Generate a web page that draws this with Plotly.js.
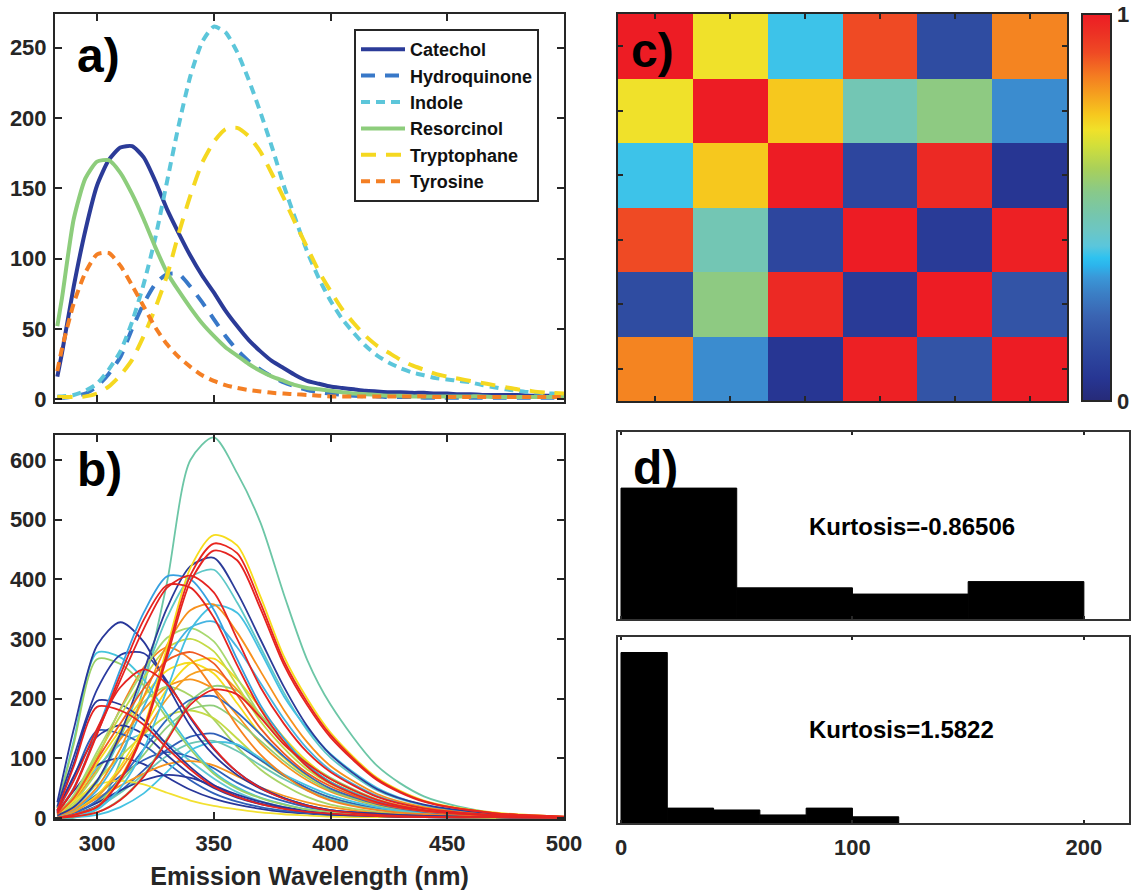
<!DOCTYPE html>
<html>
<head>
<meta charset="utf-8">
<script src="https://cdn.plot.ly/plotly-3.0.1.min.js"></script>
<style>
  html, body { margin: 0; padding: 0; background: #ffffff; }
  #fig { width: 1139px; height: 890px; }
</style>
</head>
<body>
<div id="fig"></div>
<script>
// ---------- a) reference emission spectra of the six fluorophores ----------
const wlPure = [283, 285, 290, 295, 300, 305, 310, 315, 320, 325, 330, 335, 340, 345, 350,
  355, 360, 365, 370, 375, 380, 385, 390, 395, 400, 405, 410, 415, 420, 425, 430, 435, 440,
  445, 450, 455, 460, 465, 470, 475, 480, 485, 490, 495, 500];

const catechol = [16, 33, 80, 120, 152, 170, 179, 180, 172, 155, 135, 118, 102, 88, 76,
  63, 52, 42, 34, 27, 22, 17, 13, 11, 9, 8, 7, 6, 5.5, 5, 5, 4.5, 4.5,
  4, 4, 3.5, 3.5, 3, 3, 3, 3, 2.5, 2.5, 2.5, 2.5];
const hydroquinone = [1, 1, 2, 4, 9, 18, 30, 50, 68, 82, 89, 89, 80, 69, 57,
  45, 35, 27, 21, 16, 12, 9, 6.5, 5, 4, 3, 2.5, 2, 2, 1.5, 1.5, 1.5, 1,
  1, 1, 1, 1, 1, 1, 1, 1, 1, 1, 1, 1];
const indole = [2, 2, 3, 6, 11, 21, 34, 55, 82, 115, 155, 195, 230, 254, 265,
  261, 247, 227, 204, 179, 152, 128, 105, 86, 70, 57, 47, 38, 31, 26, 22, 19, 17,
  15, 14, 13, 12, 10, 8.5, 7, 6, 5, 4.5, 4, 3.5];
const resorcinol = [52, 72, 128, 157, 169, 170, 161, 146, 128, 108, 90, 77, 65, 54, 45,
  37, 31, 25, 20, 16, 13, 10, 8, 7, 6, 5, 4, 3.5, 3, 2.5, 2.5, 2, 2,
  2, 2, 2, 2, 2, 1.5, 1.5, 1.5, 1.5, 1.5, 1.5, 1.5];
const tryptophane = [1.5, 1.5, 1.5, 2, 4, 9, 17, 28, 45, 65, 88, 118, 145, 168, 183,
  192, 193, 187, 176, 160, 143, 125, 108, 91, 77, 64, 54, 45, 38, 33, 28, 24, 21,
  18, 16, 14.5, 13, 11.5, 10, 8.5, 7, 6, 5, 4.5, 4];
const tyrosine = [20, 36, 68, 90, 103, 104, 95, 81, 66, 51, 39, 30, 23, 17, 13,
  10, 8, 6.5, 5.5, 4.5, 4, 3.5, 3, 2.5, 2, 2, 2, 2, 2, 2, 2, 2, 2,
  1.5, 1.5, 1.5, 1.5, 1.5, 1.5, 1.5, 1.5, 1.5, 1.5, 1.5, 1.5];

const pureNames = ['Catechol', 'Hydroquinone', 'Indole', 'Resorcinol', 'Tryptophane', 'Tyrosine'];
const pureSeries = [catechol, hydroquinone, indole, resorcinol, tryptophane, tyrosine];
const pureColors = ['#2b3b98', '#3878c8', '#5cc6da', '#8dcd7c', '#f5d820', '#f47f24'];
const pureDash = ['solid', '14px,10px', '9px,6px', 'solid', '15px,10px', '9px,6px'];

// ---------- b) measured mixture spectra ----------
const wlMix = [283, 290, 300, 310, 320, 330, 340, 350, 360, 370, 380, 390, 400, 420, 440, 470, 500];

const mixSpectra = [
  [0, 0, 15, 95, 220, 395, 600, 638, 578, 495, 375, 265, 190, 87, 36, 8, 1],
  [4, 17, 59, 134, 235, 336, 403, 416, 361, 286, 210, 147, 101, 46, 21, 6, 1],
  [5, 28, 81, 132, 181, 220, 232, 216, 172, 125, 90, 63, 44, 20, 9, 3, 1],
  [7, 26, 77, 141, 194, 220, 205, 165, 119, 81, 55, 35, 22, 10, 4, 2, 0],
  [4, 22, 63, 103, 140, 171, 180, 167, 133, 97, 70, 49, 34, 15, 7, 2, 1],
  [7, 35, 84, 123, 140, 126, 95, 66, 43, 28, 18, 11, 7, 3, 1, 1, 0],
  [3, 13, 39, 70, 97, 110, 102, 83, 59, 41, 28, 18, 11, 5, 2, 1, 0],
  [2, 8, 27, 61, 106, 152, 182, 188, 163, 129, 95, 67, 46, 21, 10, 3, 1],
  [8, 45, 88, 100, 90, 68, 47, 32, 22, 15, 10, 7, 4, 2, 1, 0, 0],
  [9, 68, 146, 141, 122, 92, 63, 41, 27, 18, 12, 8, 5, 2, 1, 0, 0],
  [5, 31, 91, 148, 203, 247, 260, 242, 192, 140, 101, 70, 49, 22, 10, 3, 1],
  [1, 6, 20, 45, 80, 114, 136, 141, 122, 97, 71, 50, 34, 16, 7, 2, 0],
  [0, 1, 5, 18, 41, 77, 113, 127, 123, 100, 73, 54, 38, 18, 8, 2, 1],
  [1, 5, 18, 42, 73, 104, 125, 129, 112, 88, 65, 46, 31, 14, 7, 2, 0],
  [2, 11, 33, 54, 74, 90, 95, 88, 70, 51, 37, 26, 18, 8, 4, 1, 0],
  [2, 9, 25, 46, 63, 72, 67, 54, 39, 27, 18, 12, 7, 3, 1, 1, 0],
  [5, 28, 55, 62, 56, 42, 29, 20, 14, 9, 6, 4, 2, 1, 1, 0, 0],
  [12, 70, 136, 155, 140, 105, 73, 50, 34, 23, 16, 10, 6, 3, 2, 1, 0],
  [0, 2, 9, 31, 71, 133, 195, 221, 213, 173, 127, 93, 67, 31, 13, 4, 1],
  [2, 8, 29, 66, 115, 165, 198, 204, 177, 140, 103, 72, 49, 23, 10, 3, 1],
  [12, 91, 196, 190, 164, 123, 85, 55, 36, 24, 16, 10, 7, 3, 1, 1, 0],
  [3, 11, 38, 86, 151, 216, 259, 267, 232, 184, 135, 95, 65, 30, 14, 4, 1],
  [3, 10, 35, 80, 140, 200, 240, 248, 215, 170, 125, 88, 60, 28, 13, 4, 1],
  [9, 34, 100, 183, 252, 286, 266, 215, 154, 106, 72, 46, 29, 13, 6, 2, 1],
  [6, 36, 105, 171, 234, 285, 300, 279, 222, 162, 117, 81, 57, 26, 12, 4, 1],
  [17, 129, 277, 269, 232, 174, 120, 77, 51, 34, 23, 14, 10, 4, 2, 1, 0],
  [16, 123, 266, 258, 222, 167, 115, 74, 49, 33, 22, 14, 10, 4, 2, 1, 0],
  [19, 102, 215, 273, 276, 229, 167, 115, 77, 51, 33, 21, 13, 6, 3, 1, 1],
  [26, 148, 289, 328, 295, 223, 154, 105, 72, 49, 33, 21, 13, 7, 3, 1, 1],
  [6, 38, 111, 181, 248, 302, 318, 296, 235, 172, 124, 86, 60, 27, 13, 4, 1],
  [3, 13, 46, 106, 186, 266, 319, 329, 286, 226, 166, 116, 80, 37, 17, 5, 1],
  [0, 4, 14, 50, 115, 215, 315, 356, 344, 279, 204, 150, 107, 50, 21, 6, 1],
  [4, 14, 51, 116, 203, 290, 348, 358, 311, 246, 181, 127, 87, 40, 18, 5, 1],
  [10, 50, 145, 249, 344, 405, 400, 349, 266, 189, 133, 89, 60, 27, 12, 4, 1],
  [4, 18, 62, 141, 246, 352, 422, 436, 378, 299, 220, 154, 106, 48, 22, 7, 1],
  [0, 5, 19, 67, 152, 286, 419, 474, 457, 371, 271, 200, 143, 67, 29, 9, 2],
  [6, 33, 97, 158, 217, 264, 278, 259, 206, 150, 108, 75, 53, 24, 11, 3, 1],
  [12, 62, 149, 219, 249, 224, 169, 117, 77, 50, 32, 20, 12, 5, 2, 1, 0],
  [12, 86, 186, 180, 156, 117, 81, 52, 35, 23, 15, 10, 7, 3, 1, 1, 0],
  [0, 2, 9, 30, 69, 130, 190, 215, 207, 168, 123, 91, 65, 30, 13, 4, 1],
  [10, 48, 140, 240, 332, 390, 386, 336, 256, 182, 128, 86, 58, 26, 12, 4, 1],
  [8, 49, 142, 231, 317, 386, 406, 378, 300, 219, 158, 110, 77, 35, 16, 5, 1],
  [0, 5, 18, 63, 144, 270, 396, 448, 432, 351, 257, 189, 135, 63, 27, 8, 2],
  [0, 5, 18, 65, 148, 277, 407, 460, 444, 360, 263, 194, 139, 65, 28, 8, 2]
];
const mixColors = [
  '#6cc6a6', '#5ec8c8', '#f7941d', '#a9d466', '#c4da46', '#5fc6d6',
  '#2f5fb8', '#8ecd7a', '#28379a', '#2f5fb8', '#f6dc1c', '#2f5fb8',
  '#45c2e2', '#6cc6b4', '#f7941d', '#28379a', '#f2e030', '#28379a',
  '#8ecd7a', '#2f68c0', '#28379a', '#f6dc1c', '#f7a020', '#f7821e',
  '#c4da46', '#45c4dc', '#9ad068', '#2a3aa0', '#28379a', '#a8d870',
  '#45b4e2', '#45c0e2', '#f7901d', '#36a0e0', '#2b3b98', '#f7dc1c',
  '#f05a22', '#e52421', '#e52421', '#e52421', '#e52421', '#e52421',
  '#e52421', '#e8261f'
];

// ---------- c) correlation between the recovered and reference components ----------
const corrMatrix = [
  [1.00, 0.70, 0.38, 0.90, 0.14, 0.83],
  [0.70, 1.00, 0.74, 0.47, 0.55, 0.30],
  [0.38, 0.74, 1.00, 0.12, 0.97, 0.06],
  [0.90, 0.47, 0.12, 1.00, 0.08, 0.99],
  [0.14, 0.55, 0.97, 0.08, 1.00, 0.17],
  [0.83, 0.30, 0.06, 0.99, 0.17, 1.00]
];
const corrIndex = [1, 2, 3, 4, 5, 6];

// ---------- d) histograms with their kurtosis ----------
const histTopCenters = [25, 75, 125, 175];
const histTopCounts = [21, 5, 4, 6];
const histTopBinWidth = 50;
const histBottomCenters = [10, 30, 50, 70, 90, 110];
const histBottomCounts = [27.5, 2.4, 2.1, 1.3, 2.4, 1.0];
const histBottomBinWidth = 20;
const kurtosisTop = 'Kurtosis=-0.86506';
const kurtosisBottom = 'Kurtosis=1.5822';

// ---------- styling ----------
const FONT = 'Liberation Sans, Arial, Helvetica, sans-serif';
const INK = '#262626';
const W = 1139, H = 890;
const px = v => v / W;
const py = v => 1 - v / H;

const jetScale = [
  [0.00, '#262a78'], [0.06, '#273693'], [0.12, '#2d469e'], [0.17, '#3354a6'],
  [0.22, '#3a64b2'], [0.28, '#3b80c6'], [0.32, '#3a98d8'], [0.35, '#2cb4ec'],
  [0.37, '#2ec2f0'], [0.40, '#5ac6dc'], [0.44, '#6cc6c4'], [0.48, '#75c6ae'],
  [0.54, '#88c98a'], [0.60, '#a9d05a'], [0.66, '#d2df3a'], [0.70, '#f0e12a'],
  [0.74, '#f6c81e'], [0.80, '#f59a1f'], [0.84, '#f47c21'], [0.90, '#ef4a24'],
  [0.95, '#ec3124'], [1.00, '#ed1c24']
];

const traces = [];

pureSeries.forEach((ys, i) => {
  traces.push({
    type: 'scatter', mode: 'lines', x: wlPure, y: ys, name: pureNames[i],
    xaxis: 'x', yaxis: 'y',
    line: { color: pureColors[i], width: 4, dash: pureDash[i], shape: 'spline', smoothing: 0.6 },
    hoverinfo: 'skip'
  });
});

mixSpectra.forEach((ys, i) => {
  traces.push({
    type: 'scatter', mode: 'lines', x: wlMix, y: ys, showlegend: false,
    xaxis: 'x2', yaxis: 'y2',
    line: { color: mixColors[i], width: 1.8, shape: 'spline', smoothing: 0.8 },
    hoverinfo: 'skip'
  });
});

traces.push({
  type: 'heatmap', z: corrMatrix, x: corrIndex, y: corrIndex,
  xaxis: 'x3', yaxis: 'y3', zmin: 0, zmax: 1, colorscale: jetScale,
  hoverinfo: 'skip',
  colorbar: {
    x: px(1082), xanchor: 'left', xref: 'paper',
    y: py(14), yanchor: 'top', yref: 'paper',
    len: (401 - 14) / H, lenmode: 'fraction',
    thickness: 29, thicknessmode: 'pixels',
    xpad: 0, ypad: 0,
    outlinewidth: 2, outlinecolor: INK,
    tickvals: [0, 1], ticktext: ['0', '1'],
    ticks: 'inside', ticklen: 4, tickwidth: 2, tickcolor: INK,
    ticklabelstandoff: 4,
    tickfont: { family: FONT, size: 22, weight: 'bold', color: INK }
  }
});

traces.push({
  type: 'bar', x: histTopCenters, y: histTopCounts, width: histTopBinWidth,
  xaxis: 'x4', yaxis: 'y4', showlegend: false, hoverinfo: 'skip',
  marker: { color: '#000000', line: { color: '#000000', width: 1 } }
});
traces.push({
  type: 'bar', x: histBottomCenters, y: histBottomCounts, width: histBottomBinWidth,
  xaxis: 'x5', yaxis: 'y5', showlegend: false, hoverinfo: 'skip',
  marker: { color: '#000000', line: { color: '#000000', width: 1 } }
});

const tickFont = { family: FONT, size: 22, weight: 'bold', color: INK };
function frameAxis(extra) {
  return Object.assign({
    showline: true, linecolor: INK, linewidth: 2, mirror: 'ticks',
    ticks: 'inside', ticklen: 7, tickwidth: 2, tickcolor: INK,
    showgrid: false, zeroline: false, tickfont: tickFont, fixedrange: true
  }, extra);
}

const xSpecDomain = [px(55), px(564)];
const xRightDomain = [px(618), px(1129)];

const layout = {
  width: W, height: H,
  margin: { l: 0, r: 0, t: 0, b: 0, autoexpand: false },
  paper_bgcolor: '#ffffff', plot_bgcolor: '#ffffff',
  font: { family: FONT, color: INK },
  bargap: 0,
  showlegend: true,
  legend: {
    x: px(354), y: py(29), xanchor: 'left', yanchor: 'top',
    bgcolor: '#ffffff', bordercolor: INK, borderwidth: 2,
    font: { family: FONT, size: 18, weight: 'bold', color: '#111111' },
    itemwidth: 44, itemclick: false, itemdoubleclick: false
  },
  xaxis: frameAxis({ domain: xSpecDomain, anchor: 'y', range: [282, 500],
    tickvals: [300, 350, 400, 450, 500], showticklabels: false }),
  yaxis: frameAxis({ domain: [py(402), py(14)], anchor: 'x', range: [-2, 274],
    tickvals: [0, 50, 100, 150, 200, 250], ticklabelstandoff: 2 }),
  xaxis2: frameAxis({ domain: xSpecDomain, anchor: 'y2', range: [282, 500],
    tickvals: [300, 350, 400, 450, 500], ticklabelstandoff: 4,
    title: { text: 'Emission Wavelength (nm)', standoff: 16,
      font: { family: FONT, size: 25, weight: 'bold', color: INK } } }),
  yaxis2: frameAxis({ domain: [py(819), py(435)], anchor: 'x2', range: [-2, 642],
    tickvals: [0, 100, 200, 300, 400, 500, 600], ticklabelstandoff: 2 }),
  xaxis3: frameAxis({ domain: [px(618), px(1067)], anchor: 'y3', range: [0.5, 6.5],
    tickvals: corrIndex, showticklabels: false, ticklen: 5 }),
  yaxis3: frameAxis({ domain: [py(401), py(14)], anchor: 'x3', range: [6.5, 0.5],
    tickvals: corrIndex, showticklabels: false, ticklen: 5 }),
  xaxis4: frameAxis({ domain: xRightDomain, anchor: 'y4', range: [-1.3, 219.5],
    tickvals: [0, 100, 200], showticklabels: false, ticklen: 3, linecolor: '#333333' }),
  yaxis4: frameAxis({ domain: [py(619), py(432)], anchor: 'x4', range: [0, 30],
    ticks: '', showticklabels: false, linecolor: '#333333' }),
  xaxis5: frameAxis({ domain: xRightDomain, anchor: 'y5', range: [-1.3, 219.5],
    tickvals: [0, 100, 200], ticklen: 3, ticklabelstandoff: 4, linecolor: '#333333' }),
  yaxis5: frameAxis({ domain: [py(823), py(637)], anchor: 'x5', range: [0, 30],
    ticks: '', showticklabels: false, linecolor: '#333333' }),
  annotations: [
    { text: 'a)', x: px(98), y: py(55) },
    { text: 'b)', x: px(99), y: py(470) },
    { text: 'c)', x: px(652), y: py(51) },
    { text: 'd)', x: px(655), y: py(467) }
  ].map(a => Object.assign({
    xref: 'paper', yref: 'paper', xanchor: 'center', yanchor: 'middle', showarrow: false,
    font: { family: FONT, size: 48, weight: 'bold', color: '#000000' }
  }, a)).concat([
    { text: kurtosisTop, x: px(912), y: py(526) },
    { text: kurtosisBottom, x: px(901), y: py(729) }
  ].map(a => Object.assign({
    xref: 'paper', yref: 'paper', xanchor: 'center', yanchor: 'middle', showarrow: false,
    font: { family: FONT, size: 24, weight: 'bold', color: '#000000' }
  }, a)))
};

Plotly.newPlot('fig', traces, layout, { staticPlot: true, displayModeBar: false });
</script>
</body>
</html>
